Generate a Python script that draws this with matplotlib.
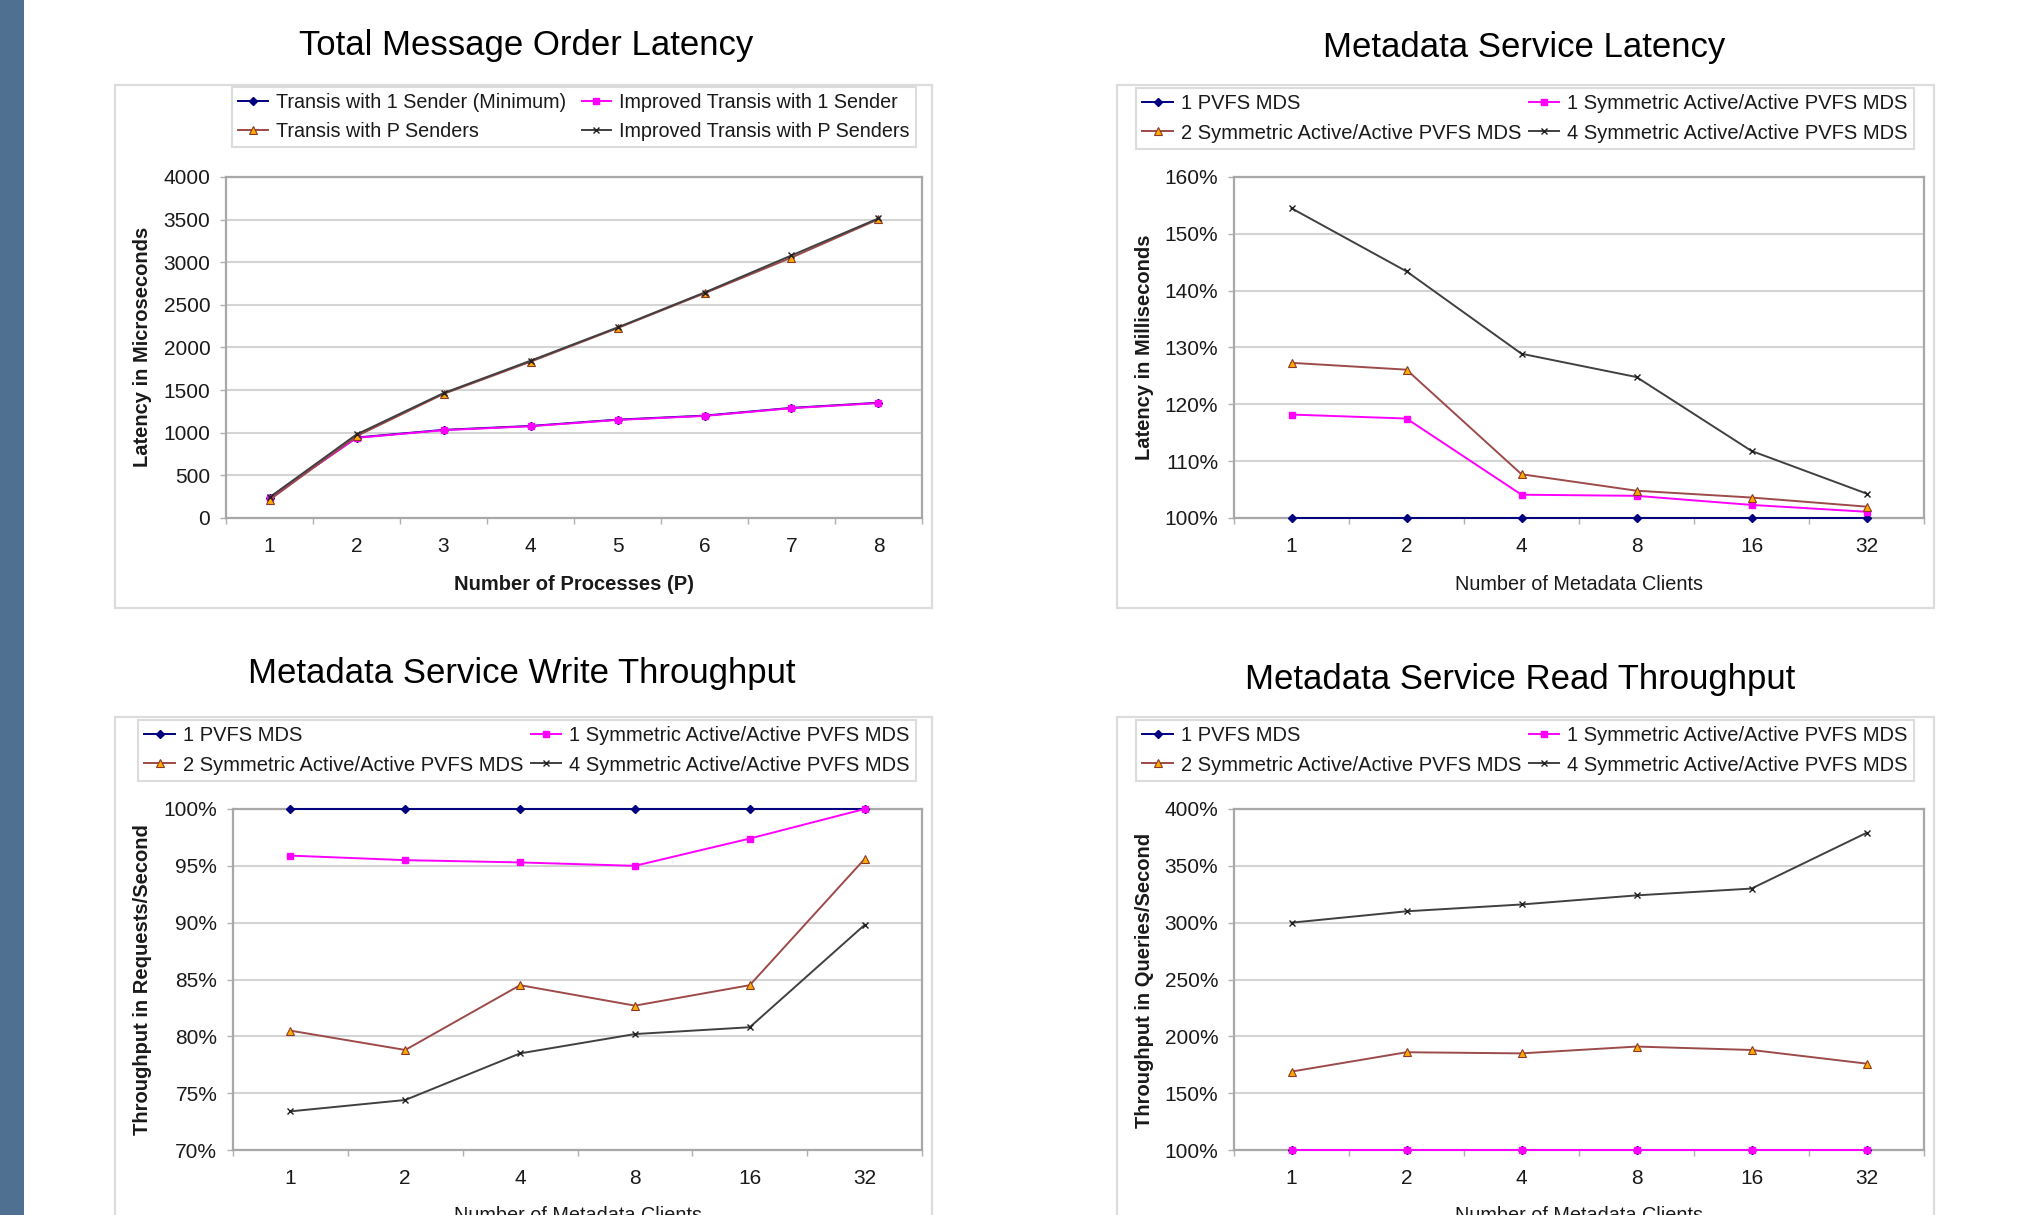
import matplotlib
matplotlib.use("Agg")
import matplotlib.pyplot as plt
from matplotlib.patches import Rectangle
from matplotlib.lines import Line2D
from matplotlib.ticker import FixedLocator, FuncFormatter, NullFormatter

plt.rcParams['font.family'] = ['Liberation Sans', 'DejaVu Sans']

# ---------------- data ----------------
proc_labels = ["1", "2", "3", "4", "5", "6", "7", "8"]
transis_1 = [238, 944, 1034, 1080, 1154, 1201, 1292, 1352]
improved_1 = [235, 940, 1030, 1076, 1150, 1197, 1288, 1348]
transis_p = [212, 960, 1455, 1833, 2227, 2636, 3055, 3505]
improved_p = [242, 980, 1465, 1845, 2235, 2645, 3080, 3515]
p1_labels = ["Transis with 1 Sender (Minimum)", "Improved Transis with 1 Sender",
             "Transis with P Senders", "Improved Transis with P Senders"]

client_labels = ["1", "2", "4", "8", "16", "32"]
mds_labels = ["1 PVFS MDS", "1 Symmetric Active/Active PVFS MDS",
              "2 Symmetric Active/Active PVFS MDS", "4 Symmetric Active/Active PVFS MDS"]

lat_pvfs = [100, 100, 100, 100, 100, 100]
lat_sym1 = [118.2, 117.5, 104.1, 103.9, 102.3, 101.1]
lat_sym2 = [127.3, 126.1, 107.7, 104.8, 103.6, 102.0]
lat_sym4 = [154.5, 143.4, 128.9, 124.8, 111.8, 104.3]

wr_pvfs = [100, 100, 100, 100, 100, 100]
wr_sym1 = [95.9, 95.5, 95.3, 95.0, 97.4, 100.0]
wr_sym2 = [80.5, 78.8, 84.5, 82.7, 84.5, 95.6]
wr_sym4 = [73.4, 74.4, 78.5, 80.2, 80.8, 89.8]

rd_pvfs = [100, 100, 100, 100, 100, 100]
rd_sym1 = [100, 100, 100, 100, 100, 100]
rd_sym2 = [169, 186, 185, 191, 188, 176]
rd_sym4 = [300, 310, 316, 324, 330, 379]

# ---------------- figure ----------------
W, H = 2020, 1215
fig = plt.figure(figsize=(W / 100, H / 100), dpi=100)
fig.patch.set_facecolor('white')


def rect(l, t, r, b):
    return [l / W, 1 - b / H, (r - l) / W, (b - t) / H]


def fx(x):
    return x / W


def fy(y):
    return 1 - y / H


# left decorative strip
fig.add_artist(Rectangle((0, 0), fx(24), 1, transform=fig.transFigure,
                         facecolor='#4f7091', edgecolor='none', zorder=-10))

# outer chart boxes
for (l, t, r, b) in [(115, 85, 932, 608), (1117, 85, 1934, 608),
                     (115, 717, 932, 1240), (1117, 717, 1934, 1240)]:
    fig.add_artist(Rectangle((fx(l), fy(b)), (r - l) / W, (b - t) / H,
                             transform=fig.transFigure, facecolor='white',
                             edgecolor='#dcdcdc', lw=1.6, zorder=-5))

STYLES = [
    dict(color='#000080', marker='D', ms=4, mfc='#000080', mec='#000080', lw=1.4),
    dict(color='#ff00ff', marker='s', ms=4.5, mfc='#ff00ff', mec='#ff00ff', lw=1.4),
    dict(color='#9c4a4a', marker='^', ms=5.5, mfc='#ffaa00', mec='#8b3a2a', lw=1.4, mew=0.8),
    dict(color='#404040', marker='x', ms=5, mfc='#202020', mec='#202020', lw=1.4, mew=1.0),
]

TXT = '#1a1a1a'


def make_panel(box, cats, series, labels, ylim, ystep, pct, title, title_xy,
               ylabel, ylabel_xy, xlabel, xlabel_xy, xlabel_bold, xlabel_va,
               leg_xy, colspacing, legfs):
    ax = fig.add_axes(rect(*box))
    n = len(cats)
    xs = list(range(n))
    for vals, st in zip(series, STYLES):
        ax.plot(xs, vals, **st, zorder=3, clip_on=False)
    ax.set_xlim(-0.5, n - 0.5)
    ax.set_ylim(*ylim)
    yt = []
    v = ylim[0]
    while v <= ylim[1] + 1e-9:
        yt.append(v)
        v += ystep
    ax.yaxis.set_major_locator(FixedLocator(yt))
    if pct:
        ax.yaxis.set_major_formatter(FuncFormatter(lambda v, p: f"{int(round(v))}%"))
    else:
        ax.yaxis.set_major_formatter(FuncFormatter(lambda v, p: f"{int(round(v))}"))
    ax.grid(axis='y', color='#d4d4d4', lw=1.5, zorder=0)
    ax.set_axisbelow(True)
    ax.xaxis.set_major_locator(FixedLocator([i - 0.5 for i in range(n + 1)]))
    ax.xaxis.set_major_formatter(NullFormatter())
    ax.xaxis.set_minor_locator(FixedLocator(xs))
    ax.set_xticklabels(cats, minor=True)
    ax.tick_params(axis='x', which='major', length=4.3, width=1.0, color='#b0b0b0',
                   direction='out')
    ax.tick_params(axis='x', which='minor', length=0, pad=13.5, labelsize=15,
                   labelcolor=TXT)
    ax.tick_params(axis='y', which='major', length=4.3, width=1.0, color='#b0b0b0',
                   pad=7, labelsize=15, labelcolor=TXT)
    for s in ax.spines.values():
        s.set_color('#a8a8a8')
        s.set_linewidth(1.6)
    fig.text(fx(title_xy[0]), fy(title_xy[1]), title, fontsize=25, ha='center',
             va='center', color='black')
    fig.text(fx(ylabel_xy[0]), fy(ylabel_xy[1]), ylabel, fontsize=14.5,
             fontweight='bold', rotation=90, ha='center', va='center', color=TXT)
    fig.text(fx(xlabel_xy[0]), fy(xlabel_xy[1]), xlabel, fontsize=14.5 if xlabel_bold else 14.3,
             fontweight='bold' if xlabel_bold else 'normal', ha='center',
             va=xlabel_va, color=TXT)
    handles = [Line2D([], [], **st) for st in STYLES]
    order = [0, 2, 1, 3]
    leg = ax.legend([handles[i] for i in order], [labels[i] for i in order],
                    loc='upper left', bbox_to_anchor=(fx(leg_xy[0]), fy(leg_xy[1])),
                    bbox_transform=fig.transFigure, ncol=2, frameon=True,
                    fancybox=False, edgecolor='#d4d4d4', fontsize=legfs,
                    borderaxespad=0, borderpad=0.32, labelspacing=0.5,
                    handlelength=1.5, handletextpad=0.4, columnspacing=colspacing,
                    numpoints=1)
    leg.get_frame().set_linewidth(1.5)
    for t in leg.get_texts():
        t.set_color(TXT)
    return ax


make_panel((226, 177, 922, 518), proc_labels,
           [transis_1, improved_1, transis_p, improved_p], p1_labels,
           (0, 4000), 500, False, "Total Message Order Latency", (526, 46),
           "Latency in Microseconds", (143, 347),
           "Number of Processes (P)", (574, 584), True, 'center',
           (232, 87), 0.8, 14.2)

make_panel((1234, 177, 1924, 518), client_labels,
           [lat_pvfs, lat_sym1, lat_sym2, lat_sym4], mds_labels,
           (100, 160), 10, True, "Metadata Service Latency", (1524, 47),
           "Latency in Milliseconds", (1144, 347),
           "Number of Metadata Clients", (1579, 584), False, 'center',
           (1136, 88), 0.4, 14.5)

make_panel((233, 809, 922, 1150), client_labels,
           [wr_pvfs, wr_sym1, wr_sym2, wr_sym4], mds_labels,
           (70, 100), 5, True, "Metadata Service Write Throughput", (522, 674),
           "Throughput in Requests/Second", (143, 980),
           "Number of Metadata Clients", (578, 1206), False, 'top',
           (138, 720), 0.4, 14.5)

make_panel((1234, 809, 1924, 1150), client_labels,
           [rd_pvfs, rd_sym1, rd_sym2, rd_sym4], mds_labels,
           (100, 400), 50, True, "Metadata Service Read Throughput", (1520, 680),
           "Throughput in Queries/Second", (1144, 980),
           "Number of Metadata Clients", (1579, 1206), False, 'top',
           (1136, 720), 0.4, 14.5)

fig.savefig("out.png", dpi=100, facecolor='white')
